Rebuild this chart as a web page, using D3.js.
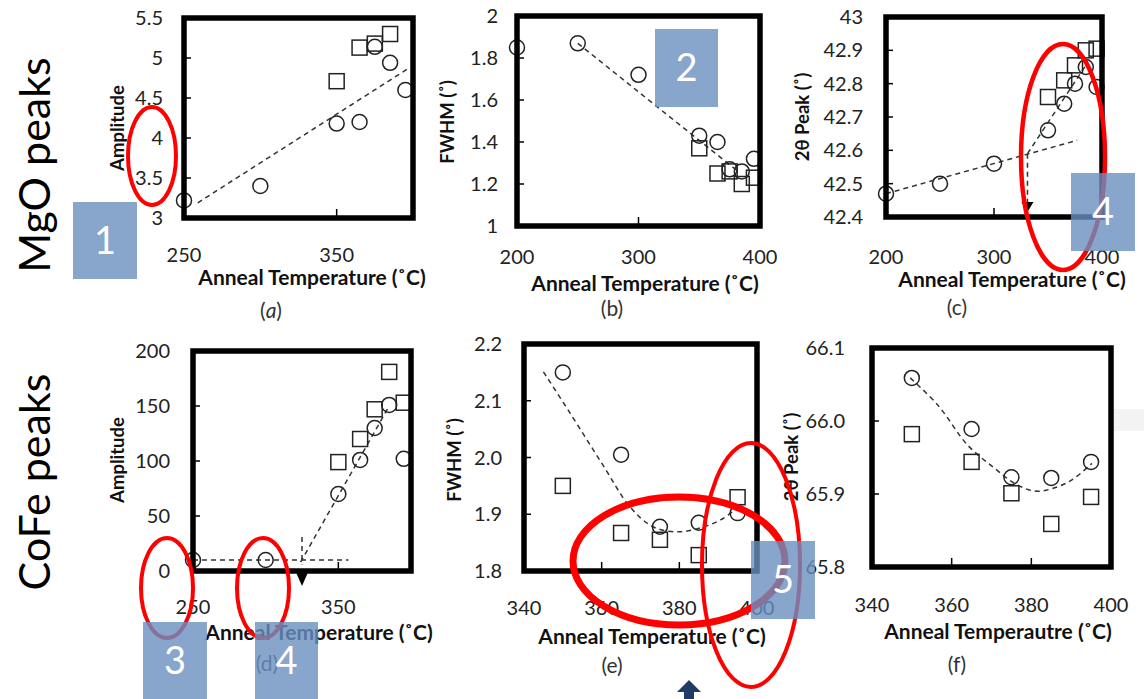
<!DOCTYPE html>
<html>
<head>
<meta charset="utf-8">
<script src="https://cdn.jsdelivr.net/npm/d3@7"></script>
<style>
  body { margin: 0; background: #fff; }
  svg { display: block; font-family: Lato, "Open Sans", sans-serif; }
</style>
</head>
<body>
<div id="chart"></div>
<script>
// ---- data ----
// (a) MgO amplitude
var tempA_circ = [250, 300, 350, 365, 375, 385, 395];
var ampA_circ  = [3.22, 3.40, 4.18, 4.20, 5.14, 4.94, 4.60];
var tempA_sq   = [350, 365, 375, 385];
var ampA_sq    = [4.71, 5.13, 5.18, 5.30];
var trendA_t   = [259, 397];
var trendA_v   = [3.19, 4.87];

// (b) MgO FWHM
var tempB_circ = [200, 250, 300, 350, 365, 375, 385, 395];
var fwhmB_circ = [1.85, 1.87, 1.72, 1.43, 1.40, 1.27, 1.26, 1.32];
var tempB_sq   = [350, 365, 375, 385, 395];
var fwhmB_sq   = [1.37, 1.25, 1.26, 1.20, 1.23];
var trendB_t   = [250, 383];
var trendB_v   = [1.87, 1.255];

// (c) MgO 2theta peak
var tempC_circ = [200, 250, 300, 350, 365, 375, 385, 395];
var peakC_circ = [42.47, 42.50, 42.56, 42.66, 42.74, 42.80, 42.85, 42.79];
var tempC_sq   = [350, 365, 375, 385, 395];
var peakC_sq   = [42.76, 42.81, 42.855, 42.90, 42.905];
var trendC1_t  = [200, 377];
var trendC1_v  = [42.47, 42.63];
var trendC2_t  = [331, 386];
var trendC2_v  = [42.59, 42.86];
var dropC_t    = [331, 331];
var dropC_v    = [42.59, 42.445];

// (d) CoFe amplitude
var tempD_circ = [250, 300, 350, 365, 375, 385, 395];
var ampD_circ  = [10, 10, 70, 101, 130, 151, 102];
var tempD_sq   = [350, 365, 375, 385, 395];
var ampD_sq    = [99, 120, 147, 181, 153];
var trendD1_t  = [250, 357];
var trendD1_v  = [10, 10];
var trendD2_t  = [324, 385];
var trendD2_v  = [8, 150];
var dropD_t    = [325, 325];
var dropD_v    = [31, 6];

// (e) CoFe FWHM
var tempE_circ = [350, 365, 375, 385, 395];
var fwhmE_circ = [2.15, 2.005, 1.878, 1.885, 1.902];
var tempE_sq   = [350, 365, 375, 385, 395];
var fwhmE_sq   = [1.95, 1.867, 1.855, 1.828, 1.93];
var curveE_t   = [345, 351.7, 360.3, 367.3, 373.2, 379.5, 385.5, 390.6, 395];
var curveE_v   = [2.151, 2.08, 1.987, 1.913, 1.878, 1.869, 1.876, 1.89, 1.911];

// (f) CoFe 2theta peak
var tempF_circ = [350, 365, 375, 385, 395];
var peakF_circ = [66.059, 65.989, 65.923, 65.922, 65.944];
var tempF_sq   = [350, 365, 375, 385, 395];
var peakF_sq   = [65.982, 65.944, 65.901, 65.859, 65.896];
var curveF_t   = [349.6, 356.5, 364, 370.6, 375.7, 380.8, 385, 390.1, 395.2];
var curveF_v   = [66.059, 66.022, 65.967, 65.936, 65.915, 65.904, 65.907, 65.919, 65.942];

// tick labels
var yTicksA = ["3", "3.5", "4", "4.5", "5", "5.5"];
var yTicksB = ["1", "1.2", "1.4", "1.6", "1.8", "2"];
var yTicksC = ["42.4", "42.5", "42.6", "42.7", "42.8", "42.9", "43"];
var yTicksD = ["0", "50", "100", "150", "200"];
var yTicksE = ["1.8", "1.9", "2.0", "2.1", "2.2"];
var yTicksF = ["65.8", "65.9", "66.0", "66.1"];
var xTicksAD = ["250", "350"];
var xTicksBC = ["200", "300", "400"];
var xTicksEF = ["340", "360", "380", "400"];

var zip = function (a, b) { return a.map(function (d, i) { return [d, b[i]]; }); };

var width = 1144, height = 699;
var svg = d3.select('#chart').append('svg')
    .attr('width', width)
    .attr('height', height);

// layout of each panel (pixels)
var panels = [
  { frame: [184, 18, 413, 218], xDom: [250, 400], yDom: [3, 5.5], yTicks: yTicksA, xTicks: xTicksAD,
    circ: zip(tempA_circ, ampA_circ), sq: zip(tempA_sq, ampA_sq),
    lines: [zip(trendA_t, trendA_v)],
    yTitle: "Amplitude", yTitlePos: [118, 128], xTitle: "Anneal Temperature (˚C)", xTitlePos: [312, 278],
    labGap: 21, xLabY: 255, cap: "a", capPos: [271, 311], italic: true },
  { frame: [517, 16, 760, 226], xDom: [200, 400], yDom: [1, 2], yTicks: yTicksB, xTicks: xTicksBC,
    circ: zip(tempB_circ, fwhmB_circ), sq: zip(tempB_sq, fwhmB_sq),
    lines: [zip(trendB_t, trendB_v)],
    yTitle: "FWHM (˚)", yTitlePos: [448, 122], xTitle: "Anneal Temperature (˚C)", xTitlePos: [645, 284],
    labGap: 19, xLabY: 257, cap: "b", capPos: [612, 309] },
  { frame: [886, 17, 1102, 217], xDom: [200, 400], yDom: [42.4, 43], yTicks: yTicksC, xTicks: xTicksBC,
    circ: zip(tempC_circ, peakC_circ), sq: zip(tempC_sq, peakC_sq),
    lines: [zip(trendC1_t, trendC1_v), zip(trendC2_t, trendC2_v), zip(dropC_t, dropC_v)],
    arrow: [331, 42.445],
    yTitle: "2θ Peak (˚)", yTitlePos: [803, 117], xTitle: "Anneal Temperature (˚C)", xTitlePos: [1012, 280],
    labGap: 23, xLabY: 257, cap: "c", capPos: [957, 308] },
  { frame: [193, 351, 411, 571], xDom: [250, 400], yDom: [0, 200], yTicks: yTicksD, xTicks: xTicksAD,
    circ: zip(tempD_circ, ampD_circ), sq: zip(tempD_sq, ampD_sq),
    lines: [zip(trendD1_t, trendD1_v), zip(trendD2_t, trendD2_v), zip(dropD_t, dropD_v)],
    arrow: [325, 0], arrowBelow: true,
    yTitle: "Amplitude", yTitlePos: [118, 460], xTitle: "Anneal Temperature (˚C)", xTitlePos: [319, 633],
    labGap: 23, xLabY: 607, cap: "d", capPos: [267, 664] },
  { frame: [524, 344, 757, 571], xDom: [340, 400], yDom: [1.8, 2.2], yTicks: yTicksE, xTicks: xTicksEF,
    circ: zip(tempE_circ, fwhmE_circ), sq: zip(tempE_sq, fwhmE_sq),
    curve: zip(curveE_t, curveE_v),
    yTitle: "FWHM (˚)", yTitlePos: [455, 460], xTitle: "Anneal Temperature (˚C)", xTitlePos: [652, 637],
    labGap: 22, xLabY: 608, cap: "e", capPos: [612, 666] },
  { frame: [872, 348, 1111, 567], xDom: [340, 400], yDom: [65.8, 66.1], yTicks: yTicksF, xTicks: xTicksEF,
    circ: zip(tempF_circ, peakF_circ), sq: zip(tempF_sq, peakF_sq),
    curve: zip(curveF_t, curveF_v),
    yTitle: "2θ Peak (˚)", yTitlePos: [792, 457], xTitle: "Anneal Temperautre (˚C)", xTitlePos: [998, 632],
    labGap: 27, xLabY: 605, cap: "f", capPos: [957, 665] }
];

// faint band at right of (f)
svg.append('rect').attr('x', 1112).attr('y', 409).attr('width', 32).attr('height', 22).attr('fill', '#f3f3f3');

panels.forEach(function (p) {
  var g = svg.append('g');
  var x = d3.scaleLinear().domain(p.xDom).range([p.frame[0], p.frame[2]]);
  var y = d3.scaleLinear().domain(p.yDom).range([p.frame[3], p.frame[1]]);

  // y tick labels
  g.selectAll('text.yt').data(p.yTicks).enter().append('text')
      .attr('class', 'yt')
      .attr('x', p.frame[0] - p.labGap)
      .attr('y', function (d) { return y(+d); })
      .attr('dy', '0.35em')
      .attr('text-anchor', 'end')
      .attr('font-size', 20)
      .attr('fill', '#222')
      .text(function (d) { return d; });

  // y ticks (inside)
  g.selectAll('line.ytk').data(p.yTicks.slice(1, -1)).enter().append('line')
      .attr('x1', p.frame[0]).attr('x2', p.frame[0] + 7)
      .attr('y1', function (d) { return y(+d); })
      .attr('y2', function (d) { return y(+d); })
      .attr('stroke', '#000').attr('stroke-width', 1.5);

  // x tick labels
  g.selectAll('text.xt').data(p.xTicks).enter().append('text')
      .attr('x', function (d) { return x(+d); })
      .attr('y', p.xLabY)
      .attr('dy', '0.35em')
      .attr('text-anchor', 'middle')
      .attr('font-size', 20)
      .attr('fill', '#222')
      .text(function (d) { return d; });

  // x ticks (inside, interior only)
  g.selectAll('line.xtk').data(p.xTicks.filter(function (d) { return +d > p.xDom[0] && +d < p.xDom[1]; }))
    .enter().append('line')
      .attr('x1', function (d) { return x(+d); })
      .attr('x2', function (d) { return x(+d); })
      .attr('y1', p.frame[3]).attr('y2', p.frame[3] - 9)
      .attr('stroke', '#000').attr('stroke-width', 1.5);

  // trend lines
  var line = d3.line().x(function (d) { return x(d[0]); }).y(function (d) { return y(d[1]); });
  (p.lines || []).forEach(function (l) {
    g.append('path').attr('d', line(l))
      .attr('fill', 'none').attr('stroke', '#333').attr('stroke-width', 1.5)
      .attr('stroke-dasharray', '5,4');
  });
  if (p.curve) {
    g.append('path').attr('d', line.curve(d3.curveCatmullRom)(p.curve))
      .attr('fill', 'none').attr('stroke', '#333').attr('stroke-width', 1.5)
      .attr('stroke-dasharray', '5,4');
  }
  if (p.arrow) {
    var ax = x(p.arrow[0]), ay = y(p.arrow[1]);
    var pts = p.arrowBelow
      ? [[ax - 7, ay - 1], [ax + 7, ay - 1], [ax, ay + 15]]
      : [[ax - 6, ay], [ax + 6, ay], [ax, ay + 10]];
    g.append('path').attr('d', d3.line()(pts) + 'Z').attr('fill', '#000');
  }

  // markers
  g.selectAll('rect.sq').data(p.sq).enter().append('rect')
      .attr('x', function (d) { return x(d[0]) - 7.5; })
      .attr('y', function (d) { return y(d[1]) - 7.5; })
      .attr('width', 15).attr('height', 15)
      .attr('fill', 'none').attr('stroke', '#222').attr('stroke-width', 1.5);
  g.selectAll('circle.ci').data(p.circ).enter().append('circle')
      .attr('cx', function (d) { return x(d[0]); })
      .attr('cy', function (d) { return y(d[1]); })
      .attr('r', 7.5)
      .attr('fill', 'none').attr('stroke', '#222').attr('stroke-width', 1.5);

  // frame
  g.append('rect')
      .attr('x', p.frame[0]).attr('y', p.frame[1])
      .attr('width', p.frame[2] - p.frame[0]).attr('height', p.frame[3] - p.frame[1])
      .attr('fill', 'none').attr('stroke', '#000').attr('stroke-width', 5.5);

  // titles
  g.append('text')
      .attr('transform', 'translate(' + p.yTitlePos[0] + ',' + p.yTitlePos[1] + ') rotate(-90)')
      .attr('text-anchor', 'middle').attr('dy', '0.35em')
      .attr('font-size', 18.5).attr('font-weight', 'bold').attr('fill', '#111')
      .text(p.yTitle);
  g.append('text')
      .attr('x', p.xTitlePos[0]).attr('y', p.xTitlePos[1])
      .attr('text-anchor', 'middle').attr('dy', '0.35em')
      .attr('font-size', 21).attr('font-weight', 'bold').attr('fill', '#111')
      .text(p.xTitle);

  // caption
  var cap = g.append('text')
      .attr('x', p.capPos[0]).attr('y', p.capPos[1])
      .attr('text-anchor', 'middle').attr('dy', '0.35em')
      .attr('font-size', 21).attr('fill', '#333');
  cap.append('tspan').text('(');
  cap.append('tspan').attr('font-style', p.italic ? 'italic' : 'normal').text(p.cap);
  cap.append('tspan').text(')');
});

// row labels
[["MgO peaks", 35, 165], ["CoFe peaks", 35, 482]].forEach(function (r) {
  svg.append('text')
    .attr('transform', 'translate(' + r[1] + ',' + r[2] + ') rotate(-90)')
    .attr('text-anchor', 'middle').attr('dy', '0.35em')
    .attr('font-size', 43).attr('fill', '#000')
    .text(r[0]);
});

// red ellipses
var ellipses = [
  [152, 156, 24, 49, 4],
  [1063, 157, 42, 113, 4.5],
  [167, 588, 26, 50, 4],
  [263, 588, 26, 50, 4],
  [679, 561, 106, 64, 7],
  [751, 565, 49, 122, 4]
];
svg.selectAll('ellipse').data(ellipses).enter().append('ellipse')
    .attr('cx', function (d) { return d[0]; })
    .attr('cy', function (d) { return d[1]; })
    .attr('rx', function (d) { return d[2]; })
    .attr('ry', function (d) { return d[3]; })
    .attr('fill', 'none').attr('stroke', '#ff0000')
    .attr('stroke-width', function (d) { return d[4]; });

// numbered blue boxes
var boxes = [
  ["1", 73, 202, 64, 77],
  ["2", 655, 29, 63, 78],
  ["4", 1071, 173, 64, 78],
  ["3", 143, 622, 64, 80],
  ["4", 255, 622, 63, 80],
  ["5", 751, 541, 64, 78]
];
boxes.forEach(function (b) {
  svg.append('rect').attr('x', b[1]).attr('y', b[2]).attr('width', b[3]).attr('height', b[4])
    .attr('fill', '#6a8fbf').attr('fill-opacity', 0.8);
  svg.append('text')
    .attr('x', b[1] + b[3] / 2).attr('y', b[2] + Math.min(b[4], 77) / 2)
    .attr('text-anchor', 'middle').attr('dy', '0.36em')
    .attr('font-size', 38).attr('fill', '#fff')
    .text(b[0]);
});

// dark blue arrow at bottom
svg.append('path')
  .attr('d', 'M689,680 L677,692 L684,692 L684,699 L694,699 L694,692 L701,692 Z')
  .attr('fill', '#1f3b66');
</script>
</body>
</html>
